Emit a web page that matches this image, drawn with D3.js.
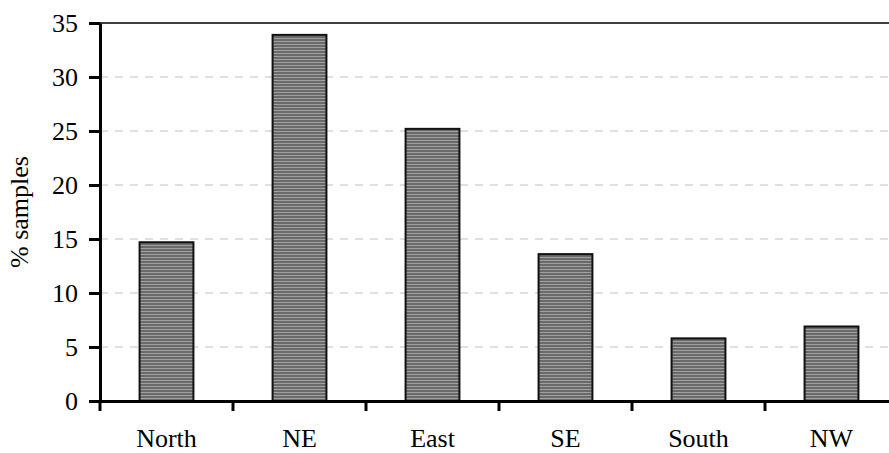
<!DOCTYPE html>
<html><head><meta charset="utf-8">
<script src="https://cdn.jsdelivr.net/npm/d3@7"></script>
</head><body style="margin:0">
<script>
const categories = ["North","NE","East","SE","South","NW"];
const values = [14.7, 33.9, 25.2, 13.6, 5.8, 6.9];
const yTicks = [0,5,10,15,20,25,30,35];
const yLabel = "% samples";

const FONT = "Liberation Serif";
const FS = 26;
const W = 889, H = 453;
const m = {left:100, top:23, right:-9, bottom:52};
const svg = d3.select("body").append("svg").attr("width",W).attr("height",H)
  .style("display","block").attr("font-family",FONT);
const defs = svg.append("defs");
const pat = defs.append("pattern").attr("id","stripes").attr("patternUnits","userSpaceOnUse")
  .attr("width",4).attr("height",3);
pat.append("rect").attr("width",4).attr("height",3).attr("fill","#6a6a6a");
pat.append("rect").attr("y",2).attr("width",4).attr("height",1).attr("fill","#a0a0a0");

const x = d3.scaleBand().domain(categories).range([m.left, W - m.right]).paddingInner(0.595).paddingOuter(0.2975);
const y = d3.scaleLinear().domain([0,35]).range([H - m.bottom, m.top]);

// grid
svg.append("g").selectAll("line").data(yTicks.filter(t=>t>0 && t<35)).join("line")
  .attr("x1",m.left).attr("x2",W).attr("y1",d=>y(d)).attr("y2",d=>y(d))
  .attr("stroke","#c0c0c0").attr("stroke-width",1).attr("stroke-dasharray","8,7");
// top border
svg.append("line").attr("x1",m.left).attr("x2",W).attr("y1",y(35)).attr("y2",y(35))
  .attr("stroke","#000").attr("stroke-width",1.5);

// bars
svg.append("g").selectAll("rect").data(values).join("rect")
  .attr("x",(d,i)=>x(categories[i])).attr("width",x.bandwidth())
  .attr("y",d=>y(d)).attr("height",d=>y(0)-y(d))
  .attr("fill","url(#stripes)").attr("stroke","#111").attr("stroke-width",2);

// y axis
const ya = svg.append("g").attr("transform",`translate(${m.left},0)`)
  .call(d3.axisLeft(y).tickValues(yTicks).tickSize(11).tickSizeOuter(0).tickPadding(11));
ya.attr("font-family",null).attr("font-size",null);
ya.select(".domain").attr("stroke","#000").attr("stroke-width",3);
ya.selectAll(".tick line").attr("stroke","#000").attr("stroke-width",3);

// x axis
const xa = svg.append("g").attr("transform",`translate(0,${y(0)})`)
  .call(d3.axisBottom(x).tickSize(0).tickSizeOuter(0).tickPadding(28));
xa.attr("font-family",null).attr("font-size",null);
xa.select(".domain").attr("stroke","#000").attr("stroke-width",3);
const step = x.step();
const bounds = d3.range(categories.length+1).map(i => m.left + i*step);
xa.selectAll(".bt").data(bounds).join("line").attr("class","bt")
  .attr("x1",d=>d).attr("x2",d=>d).attr("y1",0).attr("y2",10)
  .attr("stroke","#000").attr("stroke-width",3);

// y label
svg.append("text").attr("transform",`translate(28,${(y(0)+y(35))/2}) rotate(-90)`)
  .attr("text-anchor","middle").text(yLabel);

svg.selectAll("text").attr("font-family",FONT).attr("font-size",FS).attr("fill","#000")
  .style("font-family",`${FONT}, Times New Roman, serif`,"important").style("font-size",FS+"px","important");
</script>
</body></html>
